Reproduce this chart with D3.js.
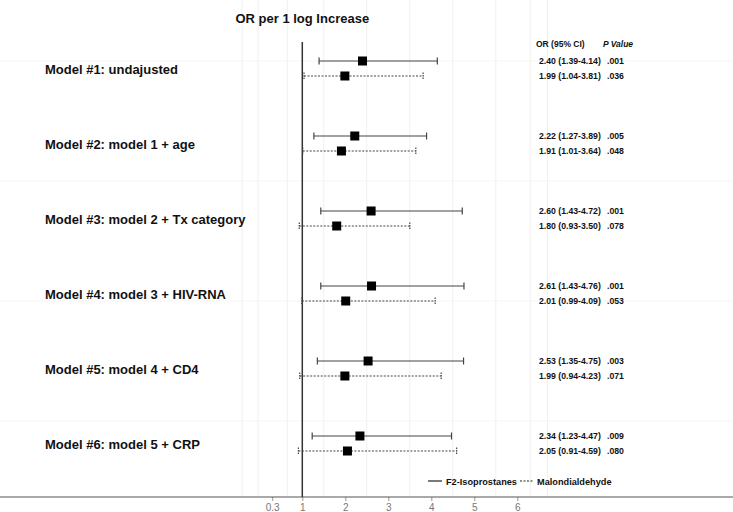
<!DOCTYPE html>
<html><head><meta charset="utf-8">
<script src="https://cdn.jsdelivr.net/npm/d3@7"></script>
<style>body{margin:0;background:#fff}svg{display:block;font-family:"Liberation Sans",Arial,sans-serif}</style>
</head><body><svg id="c" width="733" height="512"></svg>
<script>
const models = ["Model #1: undajusted","Model #2: model 1 + age","Model #3: model 2 + Tx category","Model #4: model 3 + HIV-RNA","Model #5: model 4 + CD4","Model #6: model 5 + CRP"];
const f2Est = [2.40,2.22,2.60,2.61,2.53,2.34];
const f2Lo  = [1.39,1.27,1.43,1.43,1.35,1.23];
const f2Hi  = [4.14,3.89,4.72,4.76,4.75,4.47];
const f2P   = [".001",".005",".001",".001",".003",".009"];
const mdEst = [1.99,1.91,1.80,2.01,1.99,2.05];
const mdLo  = [1.04,1.01,0.93,0.99,0.94,0.91];
const mdHi  = [3.81,3.64,3.50,4.09,4.23,4.59];
const mdP   = [".036",".048",".078",".053",".071",".080"];
const tickVals = [0.3,1,2,3,4,5,6];
const seriesNames = ["F2-Isoprostanes","Malondialdehyde"];
const gridX = [-0.4,-0.03,0.65,1.5,2.5,3.5,4.5,5.5,6.3,6.7];

const svg = d3.select("#c");
const W = 733, H = 512;
const x = d3.scaleLinear().domain([0,6]).range([259.3,517.3]);
const y = d3.scaleBand().domain(models).range([31.5,481.5]).padding(0);
const axisY = 497;

// grid
const g = svg.append("g");
g.selectAll("line.gx").data(gridX).enter().append("line")
  .attr("x1",d=>x(d)).attr("x2",d=>x(d)).attr("y1",0).attr("y2",axisY)
  .attr("stroke","#f0f0f0").attr("stroke-width",1);
g.selectAll("line.gy").data([61,181,301,421]).enter().append("line")
  .attr("x1",0).attr("x2",W).attr("y1",d=>d).attr("y2",d=>d)
  .attr("stroke","#f5f5f5").attr("stroke-width",1);

// axis
const ax = svg.append("g").attr("transform",`translate(0,${axisY})`)
  .call(d3.axisBottom(x).tickValues(tickVals).tickFormat(d3.format("~g")).tickSize(4).tickPadding(3));
ax.select(".domain").remove();
ax.selectAll(".tick line").attr("stroke","#999");
ax.selectAll(".tick text").attr("fill","#777").attr("font-size","10px").attr("font-family","Liberation Sans, Arial, sans-serif");
svg.append("line").attr("x1",0).attr("x2",W).attr("y1",axisY).attr("y2",axisY).attr("stroke","#555").attr("stroke-width",1);

// reference line
svg.append("line").attr("x1",x(1)).attr("x2",x(1)).attr("y1",42).attr("y2",axisY)
  .attr("stroke","#333").attr("stroke-width",1.5);

// title
svg.append("text").attr("x",x(1)).attr("y",23).attr("text-anchor","middle")
  .attr("font-size","13px").attr("font-weight","bold").attr("fill","#111").text("OR per 1 log Increase");

// headers
svg.append("text").attr("x",536).attr("y",47).attr("font-size","8.5px").attr("font-weight","bold").attr("fill","#111").text("OR (95% CI)");
svg.append("text").attr("x",603).attr("y",47).attr("font-size","8.5px").attr("font-weight","bold").attr("font-style","italic").attr("fill","#111").text("P Value");

const fmt = d3.format(".2f");
function drawSeries(est, lo, hi, pv, off, dashed){
  const grp = svg.append("g");
  models.forEach((m,i)=>{
    const cy = y(m) + y.bandwidth()/2 + off;
    const dash = dashed ? "2,1.5" : null;
    grp.append("line").attr("x1",x(lo[i])).attr("x2",x(hi[i])).attr("y1",cy).attr("y2",cy)
      .attr("stroke","#444").attr("stroke-width",1.2).attr("stroke-dasharray",dash);
    [lo[i],hi[i]].forEach(v=>{
      grp.append("line").attr("x1",x(v)).attr("x2",x(v)).attr("y1",cy-3.5).attr("y2",cy+3.5)
        .attr("stroke","#444").attr("stroke-width",1.2).attr("stroke-dasharray",dashed?"1.5,1":null);
    });
    grp.append("rect").attr("x",x(est[i])-4.5).attr("y",cy-4.5).attr("width",9).attr("height",9).attr("fill","#000");
    grp.append("text").attr("x",539).attr("y",cy+3).attr("font-size","8.7px").attr("font-weight","bold").attr("fill","#111")
      .text(`${fmt(est[i])} (${fmt(lo[i])}-${fmt(hi[i])})`);
    grp.append("text").attr("x",607).attr("y",cy+3).attr("font-size","8.7px").attr("font-weight","bold").attr("fill","#111")
      .text(pv[i]);
  });
}
drawSeries(f2Est,f2Lo,f2Hi,f2P,-8,false);
drawSeries(mdEst,mdLo,mdHi,mdP,7,true);

// model labels
svg.selectAll("text.model").data(models).enter().append("text")
  .attr("x",45).attr("y",d=>y(d)+y.bandwidth()/2+4.5)
  .attr("font-size","13px").attr("font-weight","bold").attr("fill","#111").text(d=>d);

// legend
const lg = svg.append("g");
lg.append("line").attr("x1",428).attr("x2",442).attr("y1",481).attr("y2",481).attr("stroke","#222").attr("stroke-width",1.2);
lg.append("text").attr("x",446).attr("y",484.5).attr("font-size","9.2px").attr("font-weight","bold").attr("fill","#111").text(seriesNames[0]);
lg.append("line").attr("x1",520).attr("x2",534).attr("y1",481).attr("y2",481).attr("stroke","#222").attr("stroke-width",1.2).attr("stroke-dasharray","2,1.5");
lg.append("text").attr("x",537).attr("y",484.5).attr("font-size","9.2px").attr("font-weight","bold").attr("fill","#111").text(seriesNames[1]);
</script></body></html>
